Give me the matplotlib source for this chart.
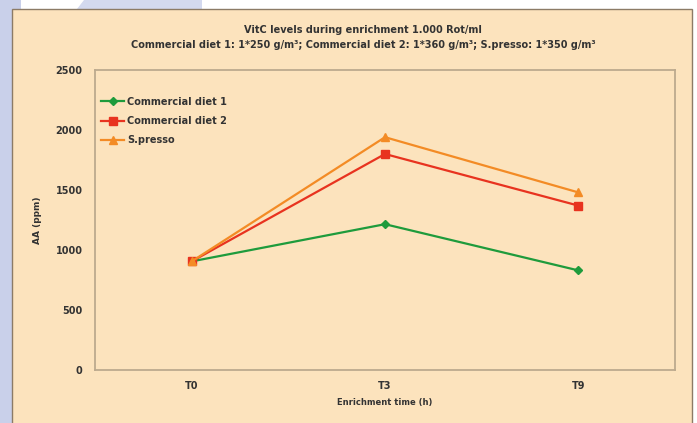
import matplotlib.pyplot as plt
from matplotlib.patches import Rectangle, Polygon

# Dati
tempi = ["T0", "T3", "T9"]
dieta1 = [905, 1215, 830]
dieta2 = [905, 1800, 1370]
spresso = [905, 1940, 1480]
yticks = [0, 500, 1000, 1500, 2000, 2500]

bg = "#FCE3BD"
fig = plt.figure(figsize=(6.97, 4.23), dpi=100)
fig.patch.set_facecolor("white")

# Decorazione di sfondo (fascia lavanda)
fig.patches.append(Polygon([[0, 0], [0.03, 0], [0.03, 1], [0, 1]], closed=True,
                           transform=fig.transFigure, facecolor="#C9D0EA", edgecolor="none", zorder=-3))
fig.patches.append(Polygon([[0.11, 0.978], [0.29, 0.978], [0.29, 1], [0.12, 1]], closed=True,
                           transform=fig.transFigure, facecolor="#D3D9EF", edgecolor="none", zorder=-3))
# Pannello beige
fig.patches.append(Rectangle((12 / 697, -0.01), 680 / 697, 1.01 - 9 / 423, transform=fig.transFigure,
                             facecolor=bg, edgecolor="#8C7B66", linewidth=1.0, zorder=-2))

ax = fig.add_axes([95 / 697, 1 - 370 / 423, 580 / 697, 300 / 423])
ax.set_facecolor(bg)

x = range(len(tempi))
ax.plot(x, dieta1, color="#1E9B3C", marker="D", markersize=4, linewidth=1.6, label="Commercial diet 1")
ax.plot(x, dieta2, color="#E8331F", marker="s", markersize=6, linewidth=1.6, label="Commercial diet 2")
ax.plot(x, spresso, color="#F38B25", marker="^", markersize=6, linewidth=1.6, label="S.presso")

ax.set_xlim(-0.5, 2.5)
ax.set_ylim(0, 2500)
ax.set_xticks(list(x))
ax.set_xticklabels(tempi, fontsize=7, fontweight="bold", color="#333333")
ax.set_yticks(yticks)
ax.set_yticklabels([str(v) for v in yticks], fontsize=7, fontweight="bold", color="#333333")
ax.tick_params(axis="y", length=0, pad=9)
ax.tick_params(axis="x", length=0, pad=8)
for s in ax.spines.values():
    s.set_color("#BCAA8E")
    s.set_linewidth(1.3)

ax.set_xlabel("Enrichment time (h)", fontsize=6, fontweight="bold", color="#333333", labelpad=5)
ax.set_ylabel("AA (ppm)", fontsize=6.5, fontweight="bold", color="#333333", labelpad=10)

ax.legend(loc="upper left", frameon=False, prop={"size": 7, "weight": "bold"},
          handlelength=2.4, handletextpad=0.3, labelspacing=0.95,
          bbox_to_anchor=(-0.005, 0.94), labelcolor="#333333")

fig.text(363 / 697, 1 - 30 / 423, "VitC levels during enrichment 1.000 Rot/ml",
         ha="center", va="center", fontsize=7, fontweight="bold", color="#333333")
fig.text(363 / 697, 1 - 45 / 423,
         "Commercial diet 1: 1*250 g/m³; Commercial diet 2: 1*360 g/m³; S.presso: 1*350 g/m³",
         ha="center", va="center", fontsize=7, fontweight="bold", color="#333333")

plt.savefig("out.png", dpi=100)
